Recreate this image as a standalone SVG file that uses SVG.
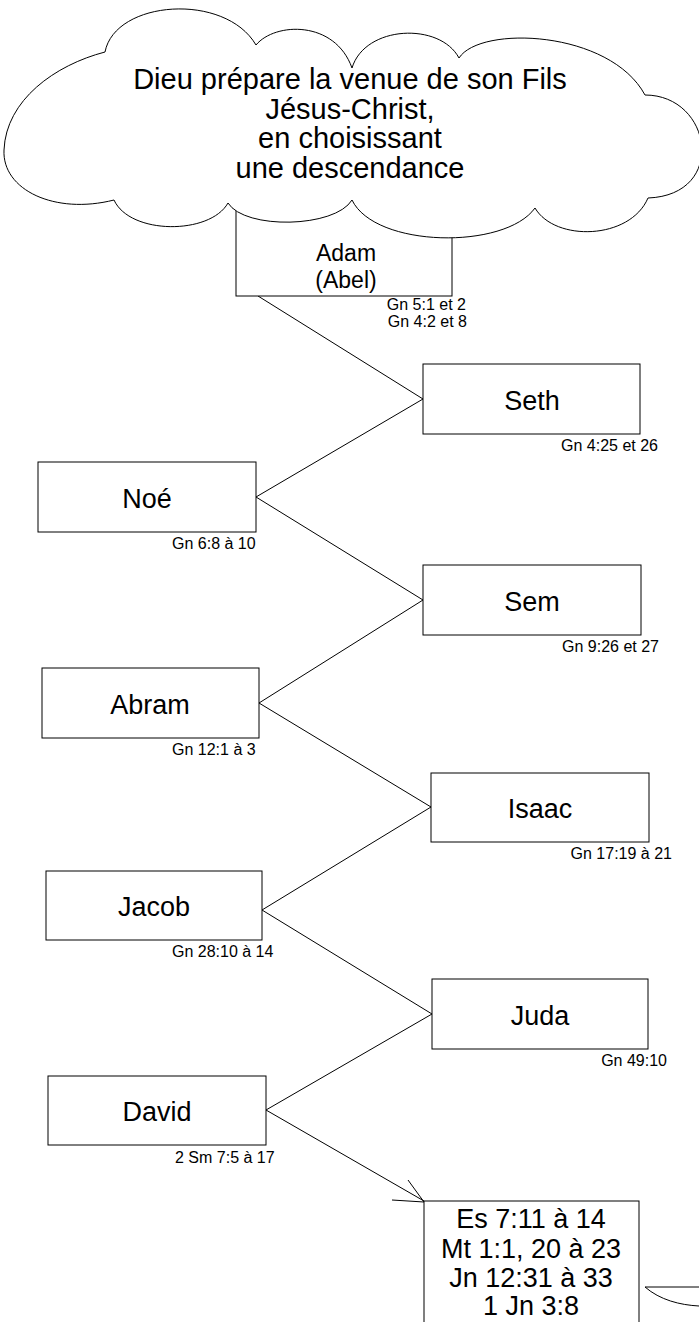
<svg xmlns="http://www.w3.org/2000/svg" width="699" height="1322" viewBox="0 0 699 1322">
<style>
.box{fill:#fff;stroke:#000;stroke-width:1}
.lbl{font-family:"Liberation Sans",Arial,sans-serif;font-size:27px;fill:#000;text-anchor:middle}
.ref{font-family:"Liberation Sans",Arial,sans-serif;font-size:16px;fill:#000}
.end{text-anchor:end}
.conn{fill:none;stroke:#000;stroke-width:1}
.cloudtxt{font-family:"Liberation Sans",Arial,sans-serif;font-size:29px;fill:#000;text-anchor:middle}
</style>
<rect width="699" height="1322" fill="#fff"/>
<g id="connectors">
<polyline class="conn" points="258,296 423,399 256,497 423,600 259,703 431,807 262,910 432,1014 266,1110 424,1201"/>
<path class="conn" d="M392,1200 L424,1202 M408,1180 L424,1202"/>
<path class="conn" d="M699,1287 L645,1287 C660,1300 680,1305 699,1306"/>
</g>
<g id="adam">
<rect class="box" x="236" y="190" width="216" height="106"/>
<text class="lbl" x="346" y="261" style="font-size:23px">Adam</text>
<text class="lbl" x="346" y="288" style="font-size:23px">(Abel)</text>
<text class="ref end" x="466" y="310">Gn 5:1 et 2</text>
<text class="ref end" x="467" y="327">Gn 4:2 et 8</text>
</g>
<g id="cloud">
<path class="box" d="M114,200 C55,215 2,190 4,150 C6,100 55,65 105,52 C115,0 225,-8 256,45 C275,22 335,20 352,68 C365,25 440,22 459,58 C480,25 610,30 645,95 C712,95 728,195 648,198 C630,240 555,242 535,208 C505,250 375,248 352,200 C335,228 245,230 228,203 C210,235 130,235 114,200 Z"/>
<text class="cloudtxt" x="350" y="89">Dieu prépare la venue de son Fils</text>
<text class="cloudtxt" x="350" y="119">Jésus-Christ,</text>
<text class="cloudtxt" x="350" y="148">en choisissant</text>
<text class="cloudtxt" x="350" y="178">une descendance</text>
</g>
<g id="seth">
<rect class="box" x="423" y="364" width="217" height="70"/>
<text class="lbl" x="532" y="410">Seth</text>
<text class="ref end" x="658" y="451">Gn 4:25 et 26</text>
</g>
<g id="noe">
<rect class="box" x="38" y="462" width="218" height="70"/>
<text class="lbl" x="147" y="508">Noé</text>
<text class="ref" x="172" y="549">Gn 6:8 à 10</text>
</g>
<g id="sem">
<rect class="box" x="423" y="565" width="218" height="70"/>
<text class="lbl" x="532" y="611">Sem</text>
<text class="ref end" x="659" y="652">Gn 9:26 et 27</text>
</g>
<g id="abram">
<rect class="box" x="42" y="668" width="217" height="70"/>
<text class="lbl" x="150" y="714">Abram</text>
<text class="ref" x="172" y="755">Gn 12:1 à 3</text>
</g>
<g id="isaac">
<rect class="box" x="431" y="773" width="218" height="69"/>
<text class="lbl" x="540" y="818">Isaac</text>
<text class="ref end" x="672" y="859">Gn 17:19 à 21</text>
</g>
<g id="jacob">
<rect class="box" x="46" y="871" width="216" height="69"/>
<text class="lbl" x="154" y="916">Jacob</text>
<text class="ref" x="172" y="957">Gn 28:10 à 14</text>
</g>
<g id="juda">
<rect class="box" x="432" y="979" width="216" height="70"/>
<text class="lbl" x="540" y="1025">Juda</text>
<text class="ref end" x="667" y="1066">Gn 49:10</text>
</g>
<g id="david">
<rect class="box" x="48" y="1076" width="218" height="69"/>
<text class="lbl" x="157" y="1121">David</text>
<text class="ref" x="175" y="1163">2 Sm 7:5 à 17</text>
</g>
<g id="final">
<rect class="box" x="424" y="1201" width="215" height="140"/>
<text class="lbl" x="531" y="1228">Es 7:11 à 14</text>
<text class="lbl" x="531" y="1258">Mt 1:1, 20 à 23</text>
<text class="lbl" x="531" y="1287">Jn 12:31 à 33</text>
<text class="lbl" x="531" y="1315">1 Jn 3:8</text>
</g>
</svg>
